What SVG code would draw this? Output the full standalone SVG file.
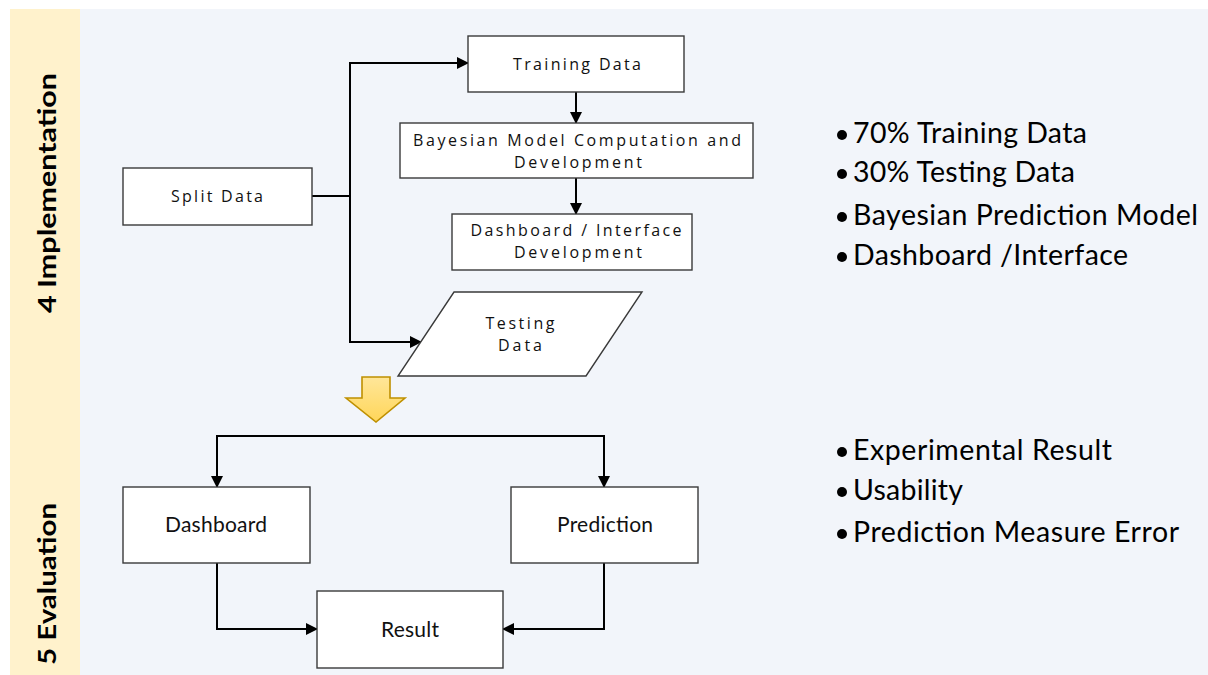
<svg xmlns="http://www.w3.org/2000/svg" width="1208" height="675" viewBox="0 0 1208 675">
<defs>
<style>
.box{fill:#ffffff;stroke:#3a3a3a;stroke-width:1.4}
.ln{fill:none;stroke:#000;stroke-width:2}
.st{font-family:"Open Sans","DejaVu Sans",sans-serif;font-size:16px;fill:#111;text-anchor:middle}
.bt{font-family:Lato,"Liberation Sans",sans-serif;font-size:21px;fill:#111;text-anchor:middle}
.bl{font-family:Lato,"Liberation Sans",sans-serif;font-size:28.5px;fill:#000}
.vl{font-family:Lato,"Liberation Sans",sans-serif;font-size:25px;font-weight:bold;fill:#000;text-anchor:middle}
</style>
<marker id="ah" markerUnits="userSpaceOnUse" markerWidth="12" markerHeight="12" viewBox="0 0 12 12" refX="11" refY="6" orient="auto">
<path d="M0,0 L12,6 L0,12 Z" fill="#000"/>
</marker>
<linearGradient id="yg" x1="0" y1="0" x2="0" y2="1">
<stop offset="0" stop-color="#ffe699"/>
<stop offset="1" stop-color="#ffd659"/>
</linearGradient>
</defs>
<rect x="0" y="0" width="1208" height="675" fill="#ffffff"/>
<rect x="80" y="9" width="1128" height="666" fill="#f2f5fa"/>
<rect x="10" y="9" width="70" height="666" fill="#fff2cc"/>

<g id="lane-labels">
<text class="vl" transform="translate(56,193) rotate(-90)" textLength="240" lengthAdjust="spacingAndGlyphs">4 Implementation</text>
<text class="vl" transform="translate(56,584) rotate(-90)" textLength="162" lengthAdjust="spacingAndGlyphs">5 Evaluation</text>
</g>

<g id="connectors">
<polyline class="ln" points="312,196 350,196"/>
<polyline class="ln" points="350,196 350,63 468,63" marker-end="url(#ah)"/>
<polyline class="ln" points="350,196 350,342 421,342" marker-end="url(#ah)"/>
<line class="ln" x1="576" y1="92" x2="576" y2="123" marker-end="url(#ah)"/>
<line class="ln" x1="576" y1="178" x2="576" y2="214" marker-end="url(#ah)"/>
<polyline class="ln" points="217,436 604,436"/>
<line class="ln" x1="217" y1="435" x2="217" y2="487" marker-end="url(#ah)"/>
<line class="ln" x1="604" y1="435" x2="604" y2="487" marker-end="url(#ah)"/>
<polyline class="ln" points="217,563 217,629 317,629" marker-end="url(#ah)"/>
<polyline class="ln" points="604,563 604,629 503,629" marker-end="url(#ah)"/>
</g>

<g id="split-data">
<rect class="box" x="123" y="168" width="189" height="57"/>
<text class="st" x="217" y="202" textLength="92" lengthAdjust="spacing">Split Data</text>
</g>
<g id="training-data">
<rect class="box" x="468" y="36" width="216" height="56"/>
<text class="st" x="577" y="70" textLength="128" lengthAdjust="spacing">Training Data</text>
</g>
<g id="bayesian-model">
<rect class="box" x="400" y="123" width="353" height="55"/>
<text class="st" x="577" y="146" textLength="328" lengthAdjust="spacing">Bayesian Model Computation and</text>
<text class="st" x="578" y="168" textLength="128" lengthAdjust="spacing">Development</text>
</g>
<g id="dashboard-interface">
<rect class="box" x="452" y="214" width="240" height="56"/>
<text class="st" x="576" y="236" textLength="211" lengthAdjust="spacing">Dashboard / Interface</text>
<text class="st" x="578" y="258" textLength="128" lengthAdjust="spacing">Development</text>
</g>
<g id="testing-data">
<polygon class="box" points="454,292 642,292 586,376 398,376"/>
<text class="st" x="520" y="329" textLength="69" lengthAdjust="spacing">Testing</text>
<text class="st" x="520" y="351" textLength="44" lengthAdjust="spacing">Data</text>
</g>
<g id="down-arrow">
<polygon points="362,377 390,377 390,398 405,398 376,422 346,398 362,398" fill="url(#yg)" stroke="#bf9000" stroke-width="1.6" stroke-linejoin="miter"/>
</g>
<g id="dashboard">
<rect class="box" x="123" y="487" width="187" height="76"/>
<text class="bt" x="216" y="532" textLength="102" lengthAdjust="spacing">Dashboard</text>
</g>
<g id="prediction">
<rect class="box" x="511" y="487" width="187" height="76"/>
<text class="bt" x="605" y="532" textLength="96" lengthAdjust="spacing">Prediction</text>
</g>
<g id="result">
<rect class="box" x="317" y="591" width="186" height="77"/>
<text class="bt" x="410" y="637" textLength="58" lengthAdjust="spacing">Result</text>
</g>

<g id="impl-bullets">
<circle cx="842" cy="135" r="5"/>
<text class="bl" x="853" y="143" textLength="234" lengthAdjust="spacing">70% Training Data</text>
<circle cx="842" cy="174" r="5"/>
<text class="bl" x="853" y="182" textLength="222" lengthAdjust="spacing">30% Testing Data</text>
<circle cx="842" cy="217" r="5"/>
<text class="bl" x="853" y="225" textLength="345" lengthAdjust="spacing">Bayesian Prediction Model</text>
<circle cx="842" cy="257" r="5"/>
<text class="bl" x="853" y="265" textLength="275" lengthAdjust="spacing">Dashboard /Interface</text>
</g>
<g id="eval-bullets">
<circle cx="842" cy="452" r="5"/>
<text class="bl" x="853" y="460" textLength="259" lengthAdjust="spacing">Experimental Result</text>
<circle cx="842" cy="492" r="5"/>
<text class="bl" x="853" y="500" textLength="110" lengthAdjust="spacing">Usability</text>
<circle cx="842" cy="534" r="5"/>
<text class="bl" x="853" y="542" textLength="326" lengthAdjust="spacing">Prediction Measure Error</text>
</g>
</svg>
